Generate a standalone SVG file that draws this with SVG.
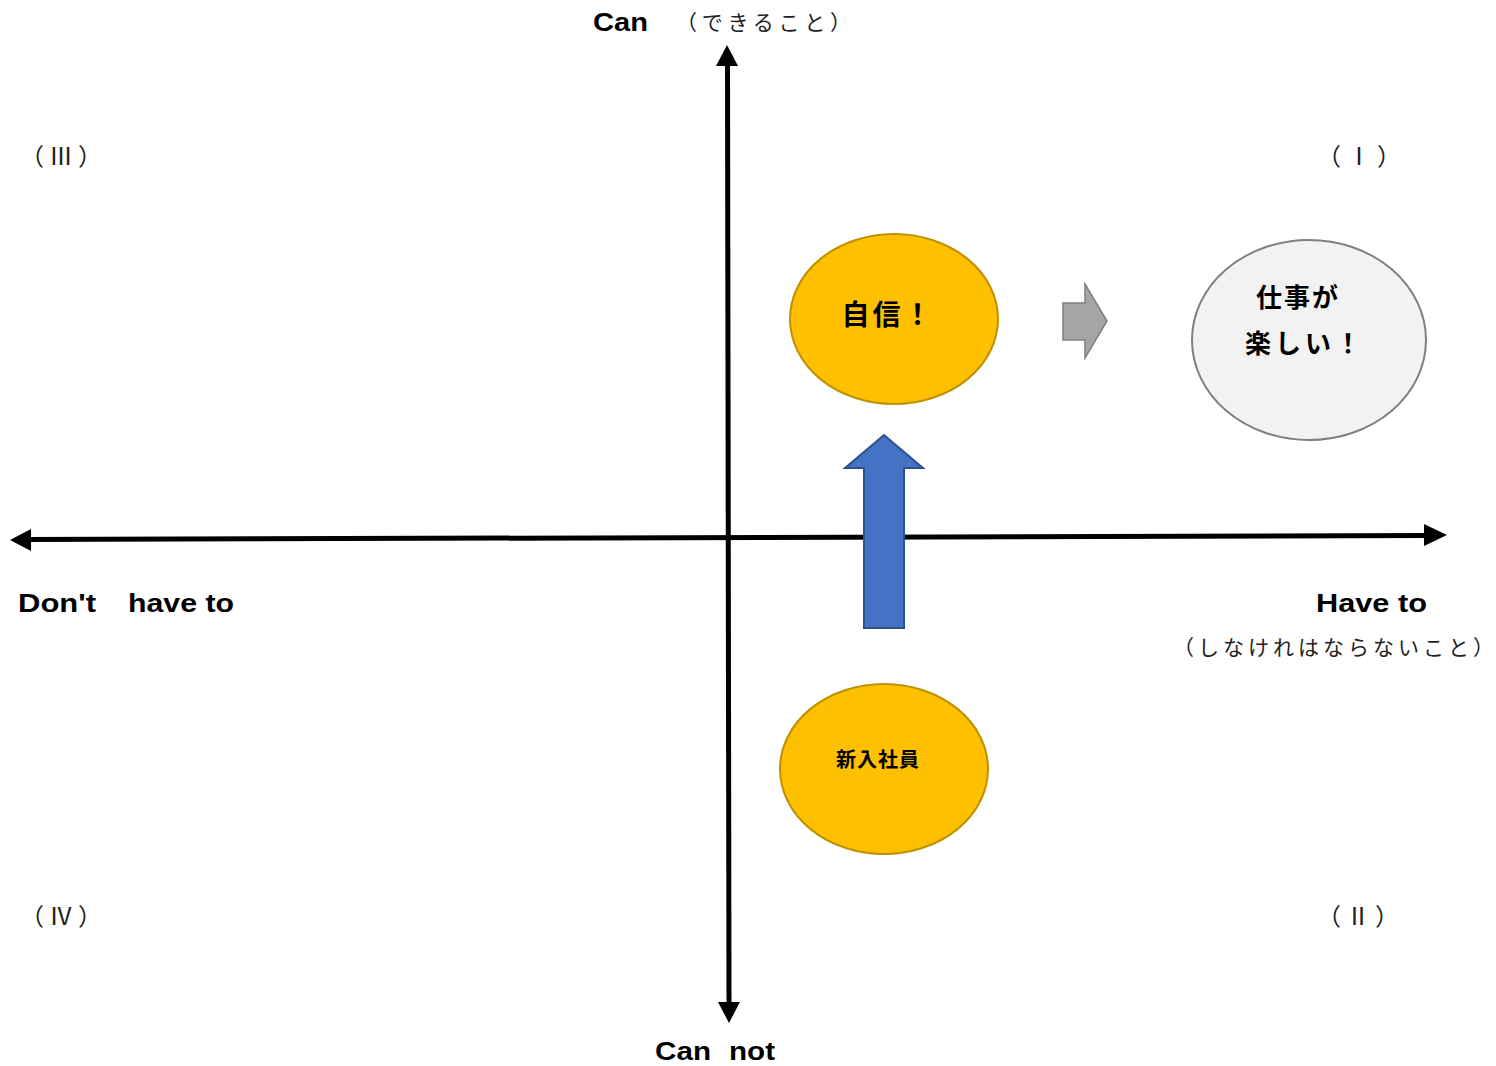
<svg xmlns="http://www.w3.org/2000/svg" width="1496" height="1066" viewBox="0 0 1496 1066">
<style>
.b{font-family:"Liberation Sans","Noto Sans CJK JP",sans-serif;font-weight:bold;fill:#000;font-size:25px}
.r{font-family:"Noto Sans CJK JP","Liberation Sans",sans-serif;fill:#222}
.j{font-family:"Noto Sans CJK JP",sans-serif;font-weight:bold;fill:#000}
.ax{stroke:#000;stroke-width:5;fill:none}
.yel{fill:#FFC000;stroke:#BF9000;stroke-width:2}
</style>
<rect width="1496" height="1066" fill="#fff"/>
<g id="connectors">
<line class="ax" x1="727.5" y1="62" x2="729" y2="1005"/>
<polygon points="727,45 716,66 738,66" fill="#000"/>
<polygon points="729,1023 718,1002 740,1002" fill="#000"/>
<line class="ax" x1="26" y1="539.5" x2="1430" y2="535.5"/>
<polygon points="10,540 31,529 31,551" fill="#000"/>
<polygon points="1447,535 1424,524 1424,546" fill="#000"/>
<polygon id="blue-arrow" points="884,435 923,468 904,468 904,628 864,628 864,468 845,468" fill="#4472C4" stroke="#2F528F" stroke-width="2"/>
<polygon id="gray-arrow" points="1063,303 1085,303 1085,284 1107,321 1085,358 1085,340 1063,340" fill="#A5A5A5" stroke="#7F7F7F" stroke-width="1.5"/>
</g>
<g id="labels">
<text class="b" x="593" y="31" textLength="55" lengthAdjust="spacingAndGlyphs">Can</text>
<text class="r" x="676" y="30" font-size="21" textLength="175" lengthAdjust="spacing">（できること）</text>
<text class="b" x="18" y="612" textLength="78" lengthAdjust="spacingAndGlyphs">Don't</text>
<text class="b" x="128" y="612" textLength="106" lengthAdjust="spacingAndGlyphs">have to</text>
<text class="b" x="1316" y="612" textLength="111" lengthAdjust="spacingAndGlyphs">Have to</text>
<text class="r" x="1173" y="655" font-size="21" textLength="321" lengthAdjust="spacing">（しなけれはならないこと）</text>
<text class="b" x="655" y="1060" textLength="56" lengthAdjust="spacingAndGlyphs">Can</text>
<text class="b" x="729" y="1060" textLength="46" lengthAdjust="spacingAndGlyphs">not</text>
<text class="r" x="20" y="165" font-size="24" letter-spacing="5">（Ⅲ）</text>
<text class="r" x="1317" y="165" font-size="24" letter-spacing="6">（Ⅰ）</text>
<text class="r" x="20" y="925" font-size="24" letter-spacing="5">（Ⅳ）</text>
<text class="r" x="1317" y="925" font-size="24" letter-spacing="5">（Ⅱ）</text>
</g>
<g id="node-jishin">
<ellipse class="yel" cx="894" cy="319" rx="104" ry="85"/>
<text class="j" x="888" y="325" font-size="28" text-anchor="middle" letter-spacing="3">自信！</text>
</g>
<g id="node-shinnyu">
<ellipse class="yel" cx="884" cy="769" rx="104" ry="85"/>
<text class="j" x="878" y="767" font-size="20" text-anchor="middle" letter-spacing="1">新入社員</text>
</g>
<g id="node-tanoshii">
<ellipse cx="1309" cy="340" rx="117" ry="100" fill="#F2F2F2" stroke="#7F7F7F" stroke-width="2"/>
<text class="j" x="1298" y="307" font-size="26" text-anchor="middle" letter-spacing="2">仕事が</text>
<text class="j" x="1305" y="353" font-size="26" text-anchor="middle" letter-spacing="4">楽しい！</text>
</g>
</svg>
